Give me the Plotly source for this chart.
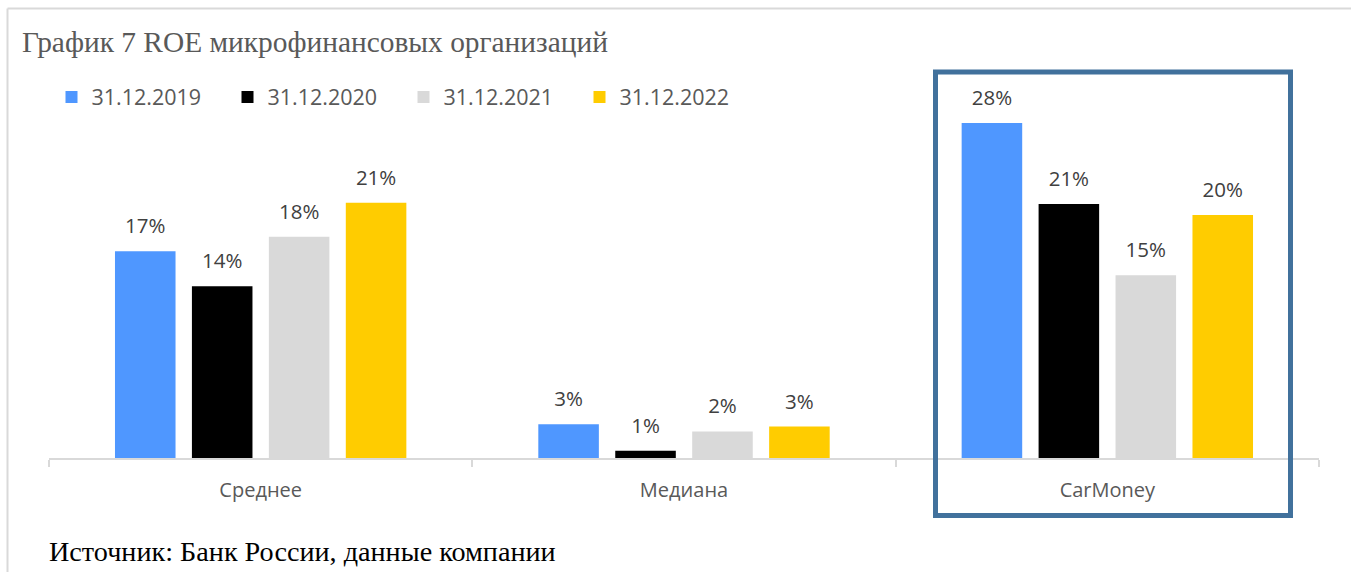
import plotly.graph_objects as go

# ---- data ----
categories = ["Среднее", "Медиана", "CarMoney"]
series_names = ["31.12.2019", "31.12.2020", "31.12.2021", "31.12.2022"]
roe_2019 = [17.1, 2.8, 27.7]
roe_2020 = [14.2, 0.6, 21.0]
roe_2021 = [18.3, 2.2, 15.1]
roe_2022 = [21.1, 2.6, 20.1]
series_values = [roe_2019, roe_2020, roe_2021, roe_2022]
series_colors = ["#4F97FF", "#000000", "#D9D9D9", "#FFCC00"]

title_text = "График 7 ROE микрофинансовых организаций"
source_text = "Источник: Банк России, данные компании"

# ---- layout geometry (pixels) ----
W, H = 1351, 572
ML, MR, MT, MB = 49, 32, 100, 114
PW, PH = W - ML - MR, H - MT - MB
Y_MAX = 29.6
BARGAP = 0.273
BARGROUPGAP = 0.213


def px(x):
    return (x - ML) / PW


def py(y):
    return (H - MB - y) / PH


FONT = "Open Sans"

fig = go.Figure()
for name, vals, col in zip(series_names, series_values, series_colors):
    fig.add_trace(go.Bar(
        x=categories, y=vals, name=name,
        marker=dict(color=col, line=dict(width=0)),
        hoverinfo="skip",
    ))
# value labels placed above bars, grouped like the bars
for name, vals in zip(series_names, series_values):
    fig.add_trace(go.Scatter(
        x=categories, y=vals, mode="markers+text",
        text=[f"{v:.0f}%" for v in vals],
        textposition="top center",
        textfont=dict(family=FONT, size=20.5, color="#404040"),
        marker=dict(size=19, opacity=0),
        showlegend=False, hoverinfo="skip", cliponaxis=False,
    ))

shapes = []
# light frame lines (top and left)
shapes.append(dict(type="line", xref="paper", yref="paper",
                   x0=px(7.5), x1=px(W), y0=py(8.5), y1=py(8.5),
                   line=dict(color="#D9D9D9", width=2)))
shapes.append(dict(type="line", xref="paper", yref="paper",
                   x0=px(7.5), x1=px(7.5), y0=py(8.5), y1=py(H),
                   line=dict(color="#D9D9D9", width=2)))
# highlight box around CarMoney
shapes.append(dict(type="rect", xref="paper", yref="paper",
                   x0=px(935.5), x1=px(1290.5), y0=py(72), y1=py(515.5),
                   line=dict(color="#41719C", width=5), fillcolor="rgba(0,0,0,0)",
                   layer="above"))

annotations = [
    dict(text=title_text, xref="paper", yref="paper", x=px(20), y=py(42),
         xanchor="left", yanchor="middle", showarrow=False,
         font=dict(family="Liberation Serif", size=29.4, color="#595959")),
    dict(text=source_text, xref="paper", yref="paper", x=px(47), y=py(551),
         xanchor="left", yanchor="middle", showarrow=False,
         font=dict(family="Liberation Serif", size=28.2, color="#000000")),
]

fig.update_layout(
    width=W, height=H,
    margin=dict(l=ML, r=MR, t=MT, b=MB, pad=0),
    paper_bgcolor="white", plot_bgcolor="white",
    barmode="group", bargap=BARGAP, bargroupgap=BARGROUPGAP,
    scattermode="group", scattergap=BARGAP,
    showlegend=True,
    legend=dict(orientation="h", x=px(51.5), y=py(97), xanchor="left", yanchor="middle",
                font=dict(family=FONT, size=21.5, color="#595959"),
                entrywidth=131, entrywidthmode="pixels",
                itemwidth=30, bgcolor="rgba(0,0,0,0)", traceorder="normal"),
    xaxis=dict(type="category", range=[-0.5, 2.5], showgrid=False, showline=True,
               linecolor="#D9D9D9", linewidth=2, ticks="outside", tickson="boundaries",
               ticklen=7, tickcolor="#D9D9D9", tickwidth=2, ticklabelstandoff=13,
               tickfont=dict(family=FONT, size=20, color="#595959"), fixedrange=True),
    yaxis=dict(range=[0, Y_MAX], visible=False, showgrid=False, zeroline=False,
               fixedrange=True),
    shapes=shapes, annotations=annotations,
)

fig.write_html("out.html",
               config={"displayModeBar": False, "staticPlot": True},
               post_script="document.body.style.margin='0';document.body.style.overflow='hidden';")
